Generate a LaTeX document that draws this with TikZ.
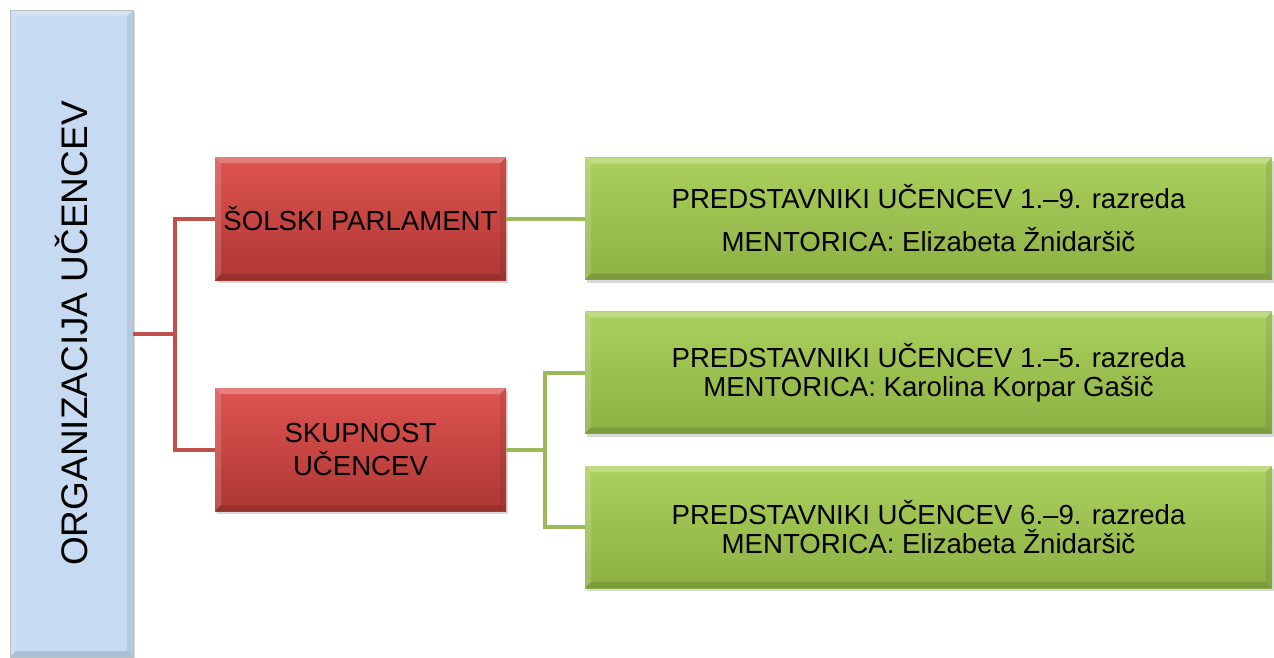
\documentclass[tikz,border=0pt]{standalone}
\usepackage{fontspec}
\setmainfont{Liberation Sans}
\usepackage{graphicx}
\usetikzlibrary{shadows,calc}
\definecolor{redTop}{HTML}{DE5450}
\definecolor{redBot}{HTML}{AE3734}
\definecolor{grnTop}{HTML}{ABD05C}
\definecolor{grnBot}{HTML}{8DB044}
\definecolor{bluFill}{HTML}{C6DAF2}
\definecolor{redLine}{HTML}{C0504D}
\definecolor{grnLine}{HTML}{9BBB59}
\tikzset{
  bevel/.style={path picture={
    \fill[white,opacity=0.25] (path picture bounding box.north west) -- (path picture bounding box.north east)
      -- ([xshift=-#1,yshift=-#1]path picture bounding box.north east) -- ([xshift=#1,yshift=-#1]path picture bounding box.north west) -- cycle;
    \fill[white,opacity=0.15] (path picture bounding box.north west) -- (path picture bounding box.south west)
      -- ([xshift=#1,yshift=#1]path picture bounding box.south west) -- ([xshift=#1,yshift=-#1]path picture bounding box.north west) -- cycle;
    \fill[black,opacity=0.08] (path picture bounding box.north east) -- (path picture bounding box.south east)
      -- ([xshift=-#1,yshift=#1]path picture bounding box.south east) -- ([xshift=-#1,yshift=-#1]path picture bounding box.north east) -- cycle;
    \fill[black,opacity=0.12] (path picture bounding box.south west) -- (path picture bounding box.south east)
      -- ([xshift=-#1,yshift=#1]path picture bounding box.south east) -- ([xshift=#1,yshift=#1]path picture bounding box.south west) -- cycle;
  }},
  box/.style={inner sep=0pt, outer sep=0pt, align=center, text=black,
    drop shadow={opacity=0.3, shadow xshift=2pt, shadow yshift=-3pt},
    bevel=6pt},
  redbox/.style={box, top color=redTop, bottom color=redBot,
    minimum width=291pt, minimum height=123pt,
    font=\fontsize{27.6}{33}\selectfont},
  grnbox/.style={box, top color=grnTop, bottom color=grnBot,
    minimum width=687pt, minimum height=122pt,
    font=\fontsize{27.6}{29}\selectfont},
  blubox/.style={box, fill=bluFill, draw=black!25, line width=0.5pt,
    minimum width=123pt, minimum height=647pt},
  redconn/.style={draw=redLine, line width=4pt},
  grnconn/.style={draw=grnLine, line width=4pt},
}
\begin{document}
\begin{tikzpicture}[x=1pt,y=-1pt]
\path[use as bounding box] (0,0) rectangle (1274,657);
\node[blubox] (org) at (71.5,333.5) {\rotatebox{90}{\fontsize{37}{44}\selectfont ORGANIZACIJA UČENCEV}};
\node[redbox] (sp) at (360.5,218.5) {ŠOLSKI PARLAMENT};
\node[redbox] (su) at (360.5,449.5) {SKUPNOST\\UČENCEV};
\node[grnbox] (g1) at (928.5,218.5) {PREDSTAVNIKI UČENCEV 1.–9. razreda\\[14pt]MENTORICA: Elizabeta Žnidaršič};
\node[grnbox] (g2) at (928.5,372.5) {PREDSTAVNIKI UČENCEV 1.–5. razreda\\MENTORICA: Karolina Korpar Gašič};
\node[grnbox] (g3) at (928.5,527) {PREDSTAVNIKI UČENCEV 6.–9. razreda\\MENTORICA: Elizabeta Žnidaršič};
\coordinate (rj) at ($(org.east)+(42,0)$);
\coordinate (gj) at ($(su.east)+(39,0)$);
\draw[redconn] (org.east) -- (rj) |- (sp.west);
\draw[redconn] (rj) |- (su.west);
\draw[grnconn] (sp.east) -- (g1.west);
\draw[grnconn] (su.east) -- (gj) |- (g2.west);
\draw[grnconn] (gj) |- (g3.west);
\end{tikzpicture}
\end{document}
